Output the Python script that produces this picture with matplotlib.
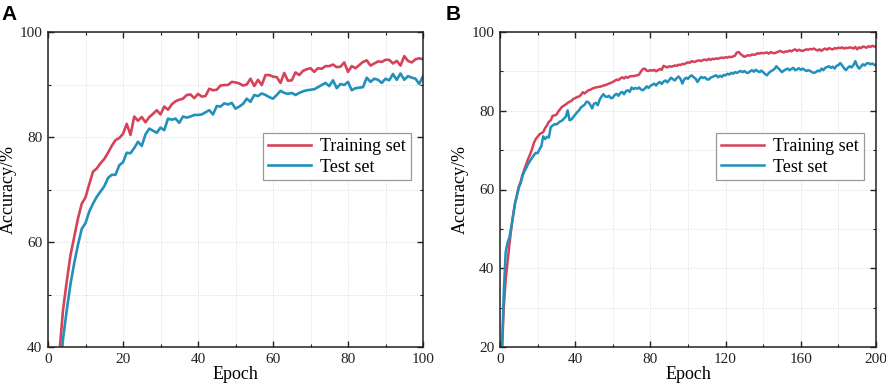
import numpy as np
import matplotlib
matplotlib.use("Agg")
import matplotlib.pyplot as plt
from matplotlib.ticker import MultipleLocator

# ---------------- data ----------------
epochs_a = list(range(1, 101))
train_a = [25, 32, 38.5, 47, 52.5, 57.5, 61, 64.5, 67.3, 68.5,
           71, 73.4, 74, 75, 75.8, 77, 78.3, 79.4, 79.8, 80.6,
           82.5, 80.4, 83.9, 83.1, 83.8, 82.8, 83.8, 84.4, 85.1, 84.3,
           85.8, 85.2, 86.2, 86.8, 87.1, 87.3, 88.0, 88.1, 87.4, 88.2,
           87.7, 87.8, 89.2, 88.9, 89.0, 89.8, 89.9, 89.9, 90.5, 90.4,
           90.2, 89.8, 90.0, 91.1, 89.7, 90.9, 89.9, 91.8, 91.8, 91.5,
           91.4, 90.3, 92.2, 90.7, 90.8, 92.3, 91.8, 92.6, 92.9, 93.1,
           92.4, 93.1, 93.0, 93.5, 93.5, 93.8, 93.3, 93.4, 94.2, 92.4,
           93.5, 93.1, 93.7, 94.3, 94.6, 93.6, 94.0, 94.4, 94.3, 94.7,
           94.7, 94.0, 94.5, 93.6, 95.4, 94.5, 94.2, 94.8, 95.0, 94.8]
test_a = [22, 28, 33, 41.5, 47, 52, 56, 59.5, 62.5, 63.6,
          65.8, 67.3, 68.6, 69.6, 70.6, 72.2, 72.8, 72.8, 74.6, 75.2,
          77.0, 76.9, 77.9, 79.1, 78.3, 80.5, 81.6, 81.2, 80.8, 81.8,
          81.3, 83.5, 83.3, 83.5, 82.7, 83.9, 83.7, 83.9, 84.2, 84.2,
          84.3, 84.7, 85.1, 84.3, 85.9, 85.8, 86.4, 86.2, 86.5, 85.4,
          85.8, 86.3, 87.3, 86.7, 88.0, 87.8, 88.3, 88.0, 87.6, 87.3,
          88.0, 88.8, 88.4, 88.2, 88.4, 88.0, 88.4, 88.7, 88.9, 89.0,
          89.1, 89.5, 89.9, 90.3, 89.7, 90.8, 89.3, 90.1, 89.9, 90.5,
          88.9, 89.3, 89.4, 89.5, 91.3, 90.5, 91.1, 90.9, 90.3, 91.1,
          90.8, 92.0, 90.9, 92.1, 90.9, 91.6, 91.3, 91.1, 90.1, 91.6]

epochs_b = list(range(1, 201))
train_b = [18.5, 30, 37, 41.5, 46, 50, 53.5, 56.5, 58.5, 60.7,
           62, 63.8, 65.2, 66.5, 67.8, 68.9, 70.2, 71.8, 72.8, 73.4,
           74.0, 74.3, 74.6, 75.6, 76.3, 77.2, 77.6, 78.7, 78.8, 79.0,
           79.8, 80.4, 81.0, 81.3, 81.6, 82.0, 82.3, 82.5, 83.0, 83.2,
           83.5, 83.6, 84.0, 84.7, 84.4, 84.8, 85.2, 85.3, 85.6, 85.8,
           85.9, 86.0, 86.1, 86.2, 86.4, 86.5, 86.7, 86.9, 87.1, 87.3,
           87.6, 87.9, 87.8, 88.2, 88.5, 88.2, 88.6, 88.4, 88.7, 88.8,
           88.8, 88.9, 89.0, 89.2, 90.0, 90.6, 90.7, 90.2, 90.1, 90.3,
           90.2, 90.4, 90.0, 90.3, 90.6, 90.4, 91.4, 91.2, 91.0, 91.3,
           91.2, 91.3, 91.5, 91.4, 91.7, 91.6, 91.9, 91.8, 92.1, 92.3,
           92.2, 92.6, 92.4, 92.5, 92.7, 92.8, 92.6, 92.9, 93.0, 92.8,
           93.2, 92.9, 93.2, 93.1, 93.3, 93.2, 93.4, 93.5, 93.4, 93.6,
           93.5, 93.7, 93.6, 93.8, 94.0, 94.8, 94.9, 94.4, 94.0, 93.7,
           93.9, 94.1, 94.0, 94.3, 94.2, 94.3, 94.6, 94.5, 94.7, 94.6,
           94.7, 94.8, 94.5, 94.9, 94.7, 94.6, 94.8, 95.0, 95.2, 95.0,
           94.8, 95.1, 95.0, 95.3, 95.1, 95.4, 95.6, 95.2, 95.5, 95.3,
           95.2, 95.4, 95.6, 95.5, 95.7, 95.6, 95.8, 95.5, 95.3, 95.6,
           95.2, 95.6, 95.8, 95.5, 95.9, 95.7, 95.6, 95.9, 95.8, 96.0,
           95.9, 96.1, 95.8, 96.0, 95.9, 96.1, 96.0, 95.8, 96.2, 95.6,
           96.1, 95.9, 96.3, 96.2, 96.0, 96.4, 96.2, 96.5, 96.3, 96.4]
test_b = [18, 34, 44, 46.5, 47.8, 50.5, 53.5, 56.5, 58.5, 60.5,
          61.6, 63.5, 64.6, 65.5, 66.5, 67.3, 68.0, 68.7, 69.3, 69.2,
          70.2, 71.0, 73.5, 72.8, 73.4, 73.2, 75.9, 76.2, 76.6, 76.5,
          76.9, 77.3, 77.5, 78.0, 78.5, 80.1, 77.6, 77.8, 78.4, 79.0,
          79.6, 80.1, 80.8, 81.2, 81.5, 82.3, 82.2, 81.5, 80.6, 81.8,
          82.0, 81.4, 82.8, 83.6, 84.2, 83.6, 83.5, 83.8, 83.2, 83.3,
          84.0, 84.3, 83.8, 84.5, 84.8, 84.2, 85.0, 85.2, 84.8, 85.9,
          85.5, 85.8, 85.6, 85.9, 85.4, 85.2, 85.6, 86.2, 85.8, 86.3,
          86.6, 86.9, 86.4, 87.0, 87.3, 86.8, 87.4, 87.7, 87.2, 87.8,
          88.4, 88.0, 87.7, 88.3, 88.7, 88.1, 86.9, 88.0, 88.4, 88.1,
          88.7, 89.0, 88.5, 88.2, 87.3, 88.0, 88.6, 88.3, 88.5, 88.0,
          87.9, 88.4, 88.6, 88.8, 89.0, 88.5, 88.9, 88.6, 89.1, 89.0,
          89.4, 89.2, 89.6, 89.4, 89.8, 89.6, 89.9, 90.1, 89.8, 90.1,
          89.7, 89.6, 90.0, 90.3, 89.9, 90.4, 90.1, 89.8, 90.2, 89.8,
          89.3, 89.0, 89.6, 90.0, 90.3, 90.6, 91.3, 90.8, 90.3, 89.8,
          90.2, 90.5, 90.7, 90.3, 90.6, 90.9, 90.3, 90.5, 90.8, 90.4,
          90.7, 90.4, 90.1, 90.3, 90.1, 89.8, 89.6, 89.8, 90.2, 90.0,
          90.7, 90.3, 90.9, 91.1, 91.3, 90.9, 91.2, 90.7, 91.4, 91.6,
          92.1, 91.5, 90.8, 90.3, 90.9, 91.3, 91.0, 91.6, 92.6, 91.4,
          90.7, 91.2, 91.8, 91.5, 92.0, 92.1, 91.8, 92.0, 91.7, 91.5]

series_labels = ["Training set", "Test set"]
panel_labels = ["A", "B"]
xlabel = "Epoch"
ylabel = "Accuracy/%"

RED = "#d64259"
BLUE = "#2190ba"

plt.rcParams["font.family"] = ["Liberation Serif", "DejaVu Serif"]

fig = plt.figure(figsize=(8.86, 3.89), dpi=100)

def style_axes(ax, xmax, xmajor, ymin, ymajor):
    ax.set_xlim(0, xmax)
    ax.set_ylim(ymin, 100)
    ax.xaxis.set_major_locator(MultipleLocator(xmajor))
    ax.xaxis.set_minor_locator(MultipleLocator(xmajor / 2))
    ax.yaxis.set_major_locator(MultipleLocator(ymajor))
    ax.yaxis.set_minor_locator(MultipleLocator(ymajor / 2))
    ax.tick_params(which="both", direction="in", top=True, right=True,
                   labelsize=11, colors="#222222", pad=4)
    ax.tick_params(which="major", length=4, width=1)
    ax.tick_params(which="minor", length=2.5, width=0.8)
    ax.grid(True, which="both", color="#dadada", linestyle=":", linewidth=0.7)
    ax.set_axisbelow(True)
    for sp in ax.spines.values():
        sp.set_linewidth(1.1)
        sp.set_color("#222222")
    ax.set_xlabel(xlabel, fontsize=13, labelpad=0)
    ax.set_ylabel(ylabel, fontsize=13, labelpad=2)

axA = fig.add_axes([48 / 886, 42 / 389, 375 / 886, 315 / 389])
axA.plot(epochs_a, train_a, color=RED, lw=1.9, label=series_labels[0])
axA.plot(epochs_a, test_a, color=BLUE, lw=1.9, label=series_labels[1])
style_axes(axA, 100, 20, 40, 20)

axB = fig.add_axes([500 / 886, 42 / 389, 376 / 886, 315 / 389])
axB.plot(epochs_b, train_b, color=RED, lw=1.8, label=series_labels[0])
axB.plot(epochs_b, test_b, color=BLUE, lw=1.8, label=series_labels[1])
style_axes(axB, 200, 40, 20, 20)

for ax in (axA, axB):
    leg = ax.legend(loc="upper right", bbox_to_anchor=(0.967, 0.678),
                    fontsize=13, frameon=True, fancybox=False,
                    edgecolor="#999999", framealpha=1, borderpad=0.25,
                    handlelength=2.4, handletextpad=0.5, labelspacing=0.2,
                    borderaxespad=0)
    leg.get_frame().set_linewidth(0.9)

fig.text(1 / 886, 1 - 5 / 389, panel_labels[0], fontsize=15, fontweight="bold",
         family="Liberation Sans", va="top", ha="left")
fig.text(446 / 886, 1 - 5 / 389, panel_labels[1], fontsize=15, fontweight="bold",
         family="Liberation Sans", va="top", ha="left")

fig.savefig("out.png", dpi=100)
